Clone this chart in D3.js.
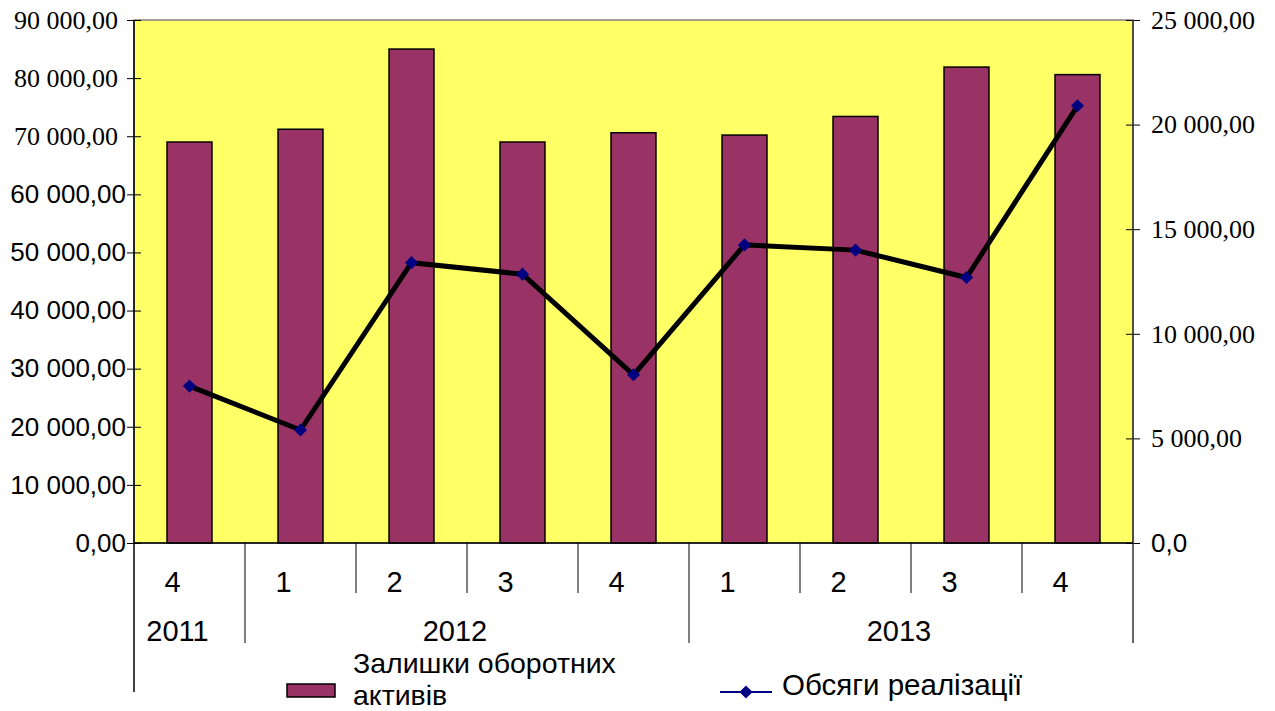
<!DOCTYPE html>
<html>
<head>
<meta charset="utf-8">
<script src="https://cdn.jsdelivr.net/npm/d3@7"></script>
<style>
  html, body { margin: 0; padding: 0; background: #ffffff; }
  svg { display: block; }
  .serif { font-family: "Liberation Serif", "Times New Roman", serif; }
  .sans { font-family: "Liberation Sans", Arial, sans-serif; }
</style>
</head>
<body>
<svg id="chart" width="1275" height="711"></svg>
<script>
// Quarterly data, Q4 2011 – Q4 2013
const quarters = ["4", "1", "2", "3", "4", "1", "2", "3", "4"];
const yearLabels = ["2011", "2012", "2013"];
const yearSpans = [1, 4, 4];
// Current assets balance (left axis)
const assets = [69000, 71200, 85000, 69000, 70600, 70200, 73400, 81900, 80600];
// Sales volume (right axis)
const sales = [7500, 5400, 13400, 12850, 8040, 14250, 14000, 12690, 20900];
const leftTicks = [0, 10000, 20000, 30000, 40000, 50000, 60000, 70000, 80000, 90000];
const rightTicks = [0, 5000, 10000, 15000, 20000, 25000];
const legendBars = ["Залишки оборотних", "активів"];
const legendLine = "Обсяги реалізації";

const svg = d3.select("#chart");
const plot = { left: 134, right: 1133, top: 20, bottom: 543 };

const locale = d3.formatLocale({ decimal: ",", thousands: "\u00a0", grouping: [3], currency: ["", ""] });
const fmt2 = locale.format(",.2f");
const fmt1 = locale.format(".1f");

const x = d3.scaleBand()
  .domain(d3.range(quarters.length))
  .range([plot.left, plot.right])
  .paddingInner(0.595)
  .paddingOuter(0.2975);
const step = x.step();
const center = i => x(i) + x.bandwidth() / 2;

const yL = d3.scaleLinear().domain([0, 90000]).range([plot.bottom, plot.top]);
const yR = d3.scaleLinear().domain([0, 25000]).range([plot.bottom, plot.top]);

// plot background
svg.append("rect")
  .attr("x", plot.left).attr("y", plot.top)
  .attr("width", plot.right - plot.left).attr("height", plot.bottom - plot.top)
  .attr("fill", "#ffff66")
  .attr("stroke", "#808080").attr("stroke-width", 1.5);

// bars
svg.append("g").selectAll("rect")
  .data(assets)
  .join("rect")
  .attr("x", (d, i) => x(i))
  .attr("y", d => yL(d))
  .attr("width", x.bandwidth())
  .attr("height", d => yL(0) - yL(d))
  .attr("fill", "#993366")
  .attr("stroke", "#000")
  .attr("stroke-width", 1.5);

// left axis
const serifLeft = new Set([70000, 80000, 90000]);
const gL = svg.append("g")
  .attr("transform", `translate(${plot.left},0)`)
  .call(d3.axisLeft(yL).tickValues(leftTicks).tickSize(7).tickPadding(6).tickFormat(d => fmt2(d)));
gL.attr("font-family", null).attr("font-size", null);
gL.select(".domain").remove();
gL.selectAll(".tick line").attr("x1", -7).attr("x2", 7).attr("stroke", "#000");
gL.selectAll(".tick text")
  .attr("class", d => serifLeft.has(d) ? "serif" : "sans")
  .attr("x", d => serifLeft.has(d) ? -16 : -8)
  .style("font-size", "26px")
  .attr("fill", "#000");

// right axis
const serifRight = new Set([5000, 10000, 15000, 20000, 25000]);
const gR = svg.append("g")
  .attr("transform", `translate(${plot.right},0)`)
  .call(d3.axisRight(yR).tickValues(rightTicks).tickSize(7).tickPadding(11)
    .tickFormat(d => d === 0 ? fmt1(d) : fmt2(d)));
gR.attr("font-family", null).attr("font-size", null);
gR.select(".domain").remove();
gR.selectAll(".tick line").attr("x1", -7).attr("x2", 7).attr("stroke", "#000");
gR.selectAll(".tick text")
  .attr("class", d => serifRight.has(d) ? "serif" : "sans")
  .style("font-size", "26px")
  .attr("fill", "#000");

// axis lines
svg.append("line").attr("x1", plot.left).attr("x2", plot.left)
  .attr("y1", plot.top).attr("y2", 692).attr("stroke", "#000").attr("stroke-width", 1.5);
svg.append("line").attr("x1", plot.right).attr("x2", plot.right)
  .attr("y1", plot.top).attr("y2", 643).attr("stroke", "#333").attr("stroke-width", 1.5);
svg.append("line").attr("x1", plot.left).attr("x2", plot.right)
  .attr("y1", plot.bottom).attr("y2", plot.bottom).attr("stroke", "#000").attr("stroke-width", 1.5);

// category separators: quarter level and year level
const yearStarts = [];
yearSpans.reduce((acc, s) => { yearStarts.push(acc); return acc + s; }, 0);
const boundaryX = i => plot.left + i * step;
const cat = svg.append("g").attr("stroke", "#000").attr("stroke-width", 1);
d3.range(1, quarters.length).forEach(i => {
  const isYear = yearStarts.includes(i);
  cat.append("line")
    .attr("x1", boundaryX(i)).attr("x2", boundaryX(i))
    .attr("y1", plot.bottom).attr("y2", isYear ? 643 : 593);
});

// quarter labels
svg.append("g").selectAll("text")
  .data(quarters)
  .join("text")
  .attr("class", "sans")
  .attr("x", (d, i) => center(i) - 17)
  .attr("y", 592)
  .attr("text-anchor", "middle")
  .style("font-size", "29px")
  .attr("fill", "#000")
  .text(d => d);

// year labels
svg.append("g").selectAll("text")
  .data(yearLabels)
  .join("text")
  .attr("class", "sans")
  .attr("x", (d, i) => (boundaryX(yearStarts[i]) + boundaryX(yearStarts[i] + yearSpans[i])) / 2 - 12)
  .attr("y", 641)
  .attr("text-anchor", "middle")
  .style("font-size", "29px")
  .attr("fill", "#000")
  .text(d => d);

// sales line
const line = d3.line().x((d, i) => center(i)).y(d => yR(d));
svg.append("path")
  .datum(sales)
  .attr("d", line)
  .attr("fill", "none")
  .attr("stroke", "#000")
  .attr("stroke-width", 5)
  .attr("stroke-linejoin", "miter");

const diamond = d3.symbol().type(d3.symbolDiamond2).size(110);
svg.append("g").selectAll("path")
  .data(sales)
  .join("path")
  .attr("transform", (d, i) => `translate(${center(i)},${yR(d)})`)
  .attr("d", diamond)
  .attr("fill", "#000080");

// legend
const lg = svg.append("g");
lg.append("rect")
  .attr("x", 287).attr("y", 684).attr("width", 48).attr("height", 13)
  .attr("fill", "#993366").attr("stroke", "#000").attr("stroke-width", 1.5);
lg.append("text")
  .attr("class", "sans")
  .attr("x", 353).attr("y", 672.5)
  .style("font-size", "28.5px").attr("fill", "#000")
  .selectAll("tspan")
  .data(legendBars)
  .join("tspan")
  .attr("x", 353)
  .attr("dy", (d, i) => i === 0 ? 0 : 32)
  .text(d => d);

lg.append("line")
  .attr("x1", 720).attr("x2", 772).attr("y1", 692).attr("y2", 692)
  .attr("stroke", "#000080").attr("stroke-width", 2);
lg.append("path")
  .attr("transform", "translate(746,692)")
  .attr("d", diamond)
  .attr("fill", "#000080");
lg.append("text")
  .attr("class", "sans")
  .attr("x", 782).attr("y", 695)
  .style("font-size", "29.5px").attr("fill", "#000")
  .text(legendLine);
</script>
</body>
</html>
